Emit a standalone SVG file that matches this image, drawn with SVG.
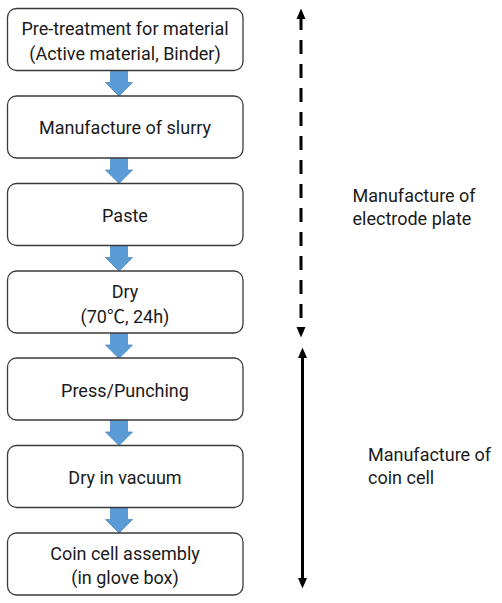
<svg xmlns="http://www.w3.org/2000/svg" xmlns:xlink="http://www.w3.org/1999/xlink" width="502" height="603" viewBox="0 0 502 603">
<style>
.box{fill:#ffffff;stroke:#3a3a3a;stroke-width:1.3}
.t{font-family:Roboto,"Liberation Sans","Noto Sans CJK KR",sans-serif;font-size:18px;fill:#1a1a1a;text-anchor:middle}
.lbl{font-family:Roboto,"Liberation Sans","Noto Sans CJK KR",sans-serif;font-size:18px;fill:#1a1a1a}
.flow{fill:#5b9bd5;stroke:#4f8cc4;stroke-width:0.8}
.span{stroke:#000;stroke-width:3;fill:none}
</style>
<defs>
<path id="fa" d="M-8.5,0 H8.5 V12 H13.5 L0,25.5 L-13.5,12 H-8.5 Z"/>
<marker id="ah" markerUnits="userSpaceOnUse" markerWidth="11" markerHeight="10" refX="0" refY="5" orient="auto-start-reverse" viewBox="0 0 11 10">
<path d="M0,0.5 L10.5,5 L0,9.5 Z" fill="#000"/>
</marker>
</defs>
<rect width="502" height="603" fill="#ffffff"/>
<g id="connectors">
<use xlink:href="#fa" class="flow" transform="translate(119,70.5)"/>
<use xlink:href="#fa" class="flow" transform="translate(119,158)"/>
<use xlink:href="#fa" class="flow" transform="translate(119,245.5)"/>
<use xlink:href="#fa" class="flow" transform="translate(119,333)"/>
<use xlink:href="#fa" class="flow" transform="translate(119,420)"/>
<use xlink:href="#fa" class="flow" transform="translate(119,507.5)"/>
<line class="span" x1="301" y1="19" x2="301" y2="327" stroke-dasharray="14 10" stroke-dashoffset="3" marker-start="url(#ah)" marker-end="url(#ah)"/>
<line class="span" x1="302.5" y1="358" x2="302.5" y2="578" marker-start="url(#ah)" marker-end="url(#ah)"/>
</g>
<g id="n1">
<rect class="box" x="7.5" y="8.5" width="235.5" height="62" rx="9"/>
<text class="t" x="125" y="35">Pre-treatment for material</text>
<text class="t" x="125" y="59.5">(Active material, Binder)</text>
</g>
<g id="n2">
<rect class="box" x="7.5" y="96" width="235.5" height="62" rx="9"/>
<text class="t" x="125" y="134">Manufacture of slurry</text>
</g>
<g id="n3">
<rect class="box" x="7.5" y="183.5" width="235.5" height="62" rx="9"/>
<text class="t" x="125" y="222">Paste</text>
</g>
<g id="n4">
<rect class="box" x="7.5" y="271" width="235.5" height="62" rx="9"/>
<text class="t" x="125" y="298">Dry</text>
<text class="t" x="125" y="323">(70℃, 24h)</text>
</g>
<g id="n5">
<rect class="box" x="7.5" y="358" width="235.5" height="62" rx="9"/>
<text class="t" x="125" y="397">Press/Punching</text>
</g>
<g id="n6">
<rect class="box" x="7.5" y="445.5" width="235.5" height="62" rx="9"/>
<text class="t" x="125" y="484">Dry in vacuum</text>
</g>
<g id="n7">
<rect class="box" x="7.5" y="533" width="235.5" height="62" rx="9"/>
<text class="t" x="125" y="560">Coin cell assembly</text>
<text class="t" x="125" y="583.5">(in glove box)</text>
</g>
<g id="label-electrode">
<text class="lbl" x="352.5" y="202">Manufacture of</text>
<text class="lbl" x="352.5" y="225">electrode plate</text>
</g>
<g id="label-coin">
<text class="lbl" x="368" y="461">Manufacture of</text>
<text class="lbl" x="368" y="484">coin cell</text>
</g>
</svg>
